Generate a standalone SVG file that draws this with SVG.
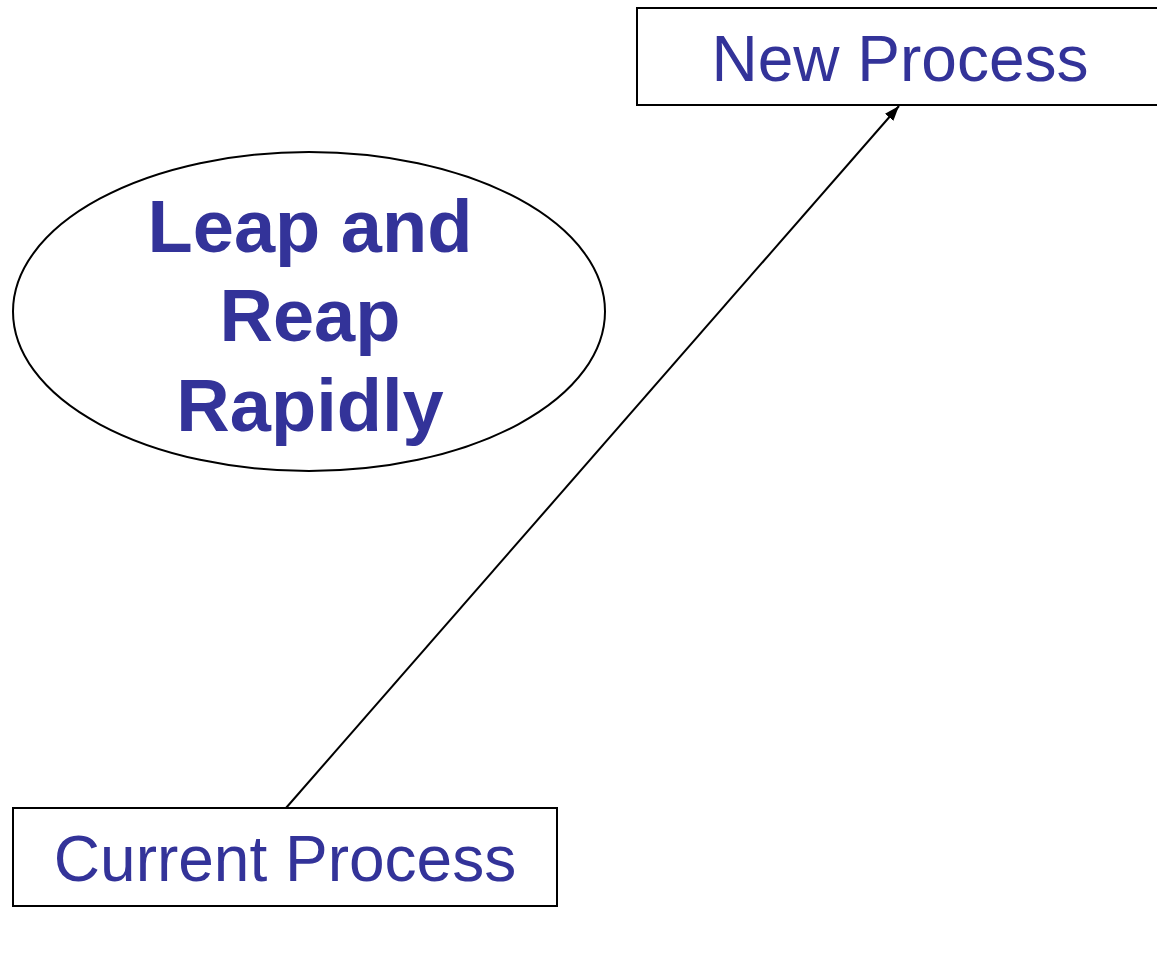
<svg xmlns="http://www.w3.org/2000/svg" width="1157" height="963" viewBox="0 0 1157 963">
<style>
.box{fill:#fff;stroke:#000;stroke-width:2}
.lbl{font-family:"Liberation Sans",Arial,sans-serif;fill:#333399;text-anchor:middle}
.big{font-size:64px}
.bold{font-size:74px;font-weight:bold}
.conn{stroke:#000;stroke-width:2;fill:none}
</style>
<defs>
<marker id="ah" markerWidth="16" markerHeight="12" refX="15" refY="5.5" markerUnits="userSpaceOnUse" orient="auto">
<path d="M0,0 L15,5.5 L0,11 z" fill="#000"/>
</marker>
</defs>
<rect width="1157" height="963" fill="#fff"/>
<g id="connectors">
<line class="conn" x1="286" y1="808" x2="899" y2="106" marker-end="url(#ah)"/>
</g>
<g id="new-process">
<rect class="box" x="637" y="8" width="530" height="97"/>
<text class="lbl big" x="900" y="81">New Process</text>
</g>
<g id="leap">
<ellipse cx="309" cy="311.5" rx="296" ry="159.5" fill="#fff" stroke="#000" stroke-width="2"/>
<text class="lbl bold" x="310" y="252">Leap and</text>
<text class="lbl bold" x="310" y="341">Reap</text>
<text class="lbl bold" x="310" y="431">Rapidly</text>
</g>
<g id="current-process">
<rect class="box" x="13" y="808" width="544" height="98"/>
<text class="lbl big" x="285" y="881">Current Process</text>
</g>
</svg>
